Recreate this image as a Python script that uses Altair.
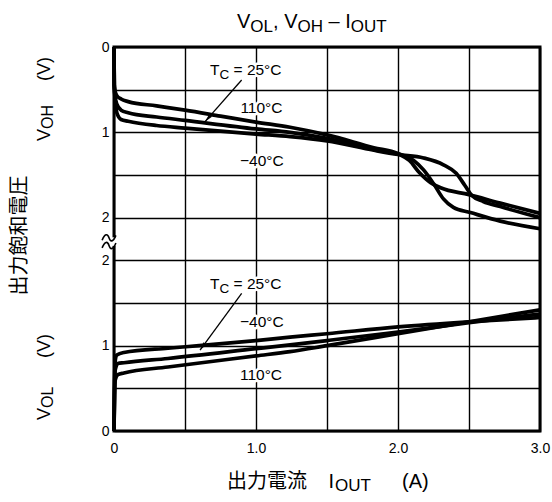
import math
import altair as alt
import pandas as pd

# ---------------- data ----------------
# V_OH - I_OUT  (upper panel, axis runs 0 at top to 2 at bottom)
oh_iout_110 = [0, 0.002, 0.008, 0.02, 0.05, 0.1, 0.3, 0.5, 0.75, 1.0, 1.24, 1.5, 1.83, 2.0, 2.08, 2.15, 2.23, 2.3, 2.5, 2.72, 3.0]
oh_v_110 = [0, 0.45, 0.52, 0.57, 0.61, 0.64, 0.69, 0.74, 0.81, 0.88, 0.94, 1.03, 1.18, 1.25, 1.33, 1.47, 1.59, 1.65, 1.73, 1.83, 1.95]
oh_iout_25 = [0, 0.002, 0.008, 0.02, 0.05, 0.1, 0.3, 0.5, 1.0, 1.24, 1.5, 1.83, 2.0, 2.11, 2.18, 2.25, 2.32, 2.39, 2.51, 2.72, 3.0]
oh_v_25 = [0, 0.45, 0.58, 0.67, 0.74, 0.77, 0.82, 0.86, 0.96, 1.0, 1.07, 1.20, 1.25, 1.33, 1.44, 1.60, 1.78, 1.88, 1.94, 2.04, 2.13]
oh_iout_m40 = [0, 0.002, 0.008, 0.02, 0.05, 0.1, 0.3, 0.5, 1.0, 1.24, 1.5, 1.83, 2.0, 2.18, 2.32, 2.41, 2.47, 2.52, 2.6, 2.72, 3.0]
oh_v_m40 = [0, 0.45, 0.62, 0.77, 0.85, 0.87, 0.92, 0.95, 1.02, 1.05, 1.10, 1.21, 1.26, 1.30, 1.38, 1.48, 1.62, 1.74, 1.81, 1.87, 2.0]

# V_OL - I_OUT  (lower panel, 0 at bottom to 2 at top)
ol_iout_25 = [0, 0.004, 0.009, 0.02, 0.07, 0.38, 0.6, 1.0, 1.24, 1.5, 2.0, 2.5, 3.0]
ol_v_25 = [0, 0.6, 0.83, 0.89, 0.92, 0.97, 1.0, 1.06, 1.10, 1.14, 1.22, 1.28, 1.33]
ol_iout_m40 = [0, 0.004, 0.009, 0.027, 0.07, 0.38, 1.0, 1.24, 1.5, 2.0, 2.5, 3.0]
ol_v_m40 = [0, 0.5, 0.72, 0.79, 0.80, 0.85, 0.965, 1.01, 1.06, 1.16, 1.27, 1.37]
ol_iout_110 = [0, 0.004, 0.009, 0.027, 0.07, 0.38, 1.0, 1.24, 1.5, 2.0, 2.5, 3.0]
ol_v_110 = [0, 0.42, 0.60, 0.66, 0.68, 0.75, 0.88, 0.93, 1.0, 1.14, 1.28, 1.42]

# arrows (I_OUT, V) from label to curve
arrow_oh_iout = [0.899, 0.641]
arrow_oh_v = [0.387, 0.875]
arrow_ol_iout = [0.899, 0.606]
arrow_ol_v = [1.614, 0.949]

x_tick_values = [0, 0.5, 1.0, 1.5, 2.0, 2.5, 3.0]
y_tick_values = [0, 0.5, 1.0, 1.5, 2.0, 2.5, 3.0, 3.5, 4.0, 4.5]

# texts
title_parts = ["V", "OL", ", V", "OH", " – I", "OUT"]
title_subs = [False, True, False, True, False, True]
xtitle_cjk = "出力電流"
xtitle_parts = ["I", "OUT"]
xtitle_unit = "(A)"
ytitle_cjk = "出力飽和電圧"
voh_title = ["V", "OH"]
vol_title = ["V", "OL"]
unit_v = "(V)"
tc_parts = ["T", "C", " = 25°C"]
tc_subs = [False, True, False]
lbl_110 = "110°C"
lbl_m40 = "−40°C"

# axis-break positions on the combined axis
break_pos = [2.264, 2.174]

# ---------------- layout ----------------
FONT = "Liberation Sans"
CJK = "Noto Sans CJK JP"
W, H = 426, 384
TOP_MAX = 4.5  # combined axis: lower panel 0..2, gap 2..2.5, upper panel 2.5..4.5


def to_pos(panel, v):
    return TOP_MAX - v if panel == "OH" else v


ADV = {"V": 0.667, "O": 0.778, "L": 0.556, "H": 0.722, "I": 0.278, "U": 0.722,
       "T": 0.611, "C": 0.722, ",": 0.278, " ": 0.278, "–": 0.556, "−": 0.584,
       "=": 0.584, "(": 0.333, ")": 0.333, "A": 0.667, "°": 0.4}


def lw(s, size):
    return sum(ADV.get(c, 0.556) for c in s) * size


rows = []
for panel, temp, xs_, vs_ in [
    ("OH", "110", oh_iout_110, oh_v_110), ("OH", "25", oh_iout_25, oh_v_25),
    ("OH", "-40", oh_iout_m40, oh_v_m40), ("OL", "25", ol_iout_25, ol_v_25),
    ("OL", "-40", ol_iout_m40, ol_v_m40), ("OL", "110", ol_iout_110, ol_v_110)]:
    for x, v in zip(xs_, vs_):
        rows.append({"panel": panel, "series": panel + temp, "I": x, "V": v})
df = pd.DataFrame(rows)

arows = []
for name, panel, xs_, vs_ in [("a1", "OH", arrow_oh_iout, arrow_oh_v), ("a2", "OL", arrow_ol_iout, arrow_ol_v)]:
    for x, v in zip(xs_, vs_):
        arows.append({"arrow": name, "panel": panel, "I": x, "V": v})
adf = pd.DataFrame(arows)

calc = "datum.panel == 'OH' ? 4.5 - datum.V : datum.V"

xaxis = alt.Axis(values=x_tick_values,
                 labelExpr="datum.value == 0 ? '0' : (datum.value % 1 == 0 ? format(datum.value, '.1f') : '')",
                 grid=True, gridColor="black", gridWidth=1.4, gridOpacity=1, domain=False, ticks=False,
                 labelFont=FONT, labelFontSize=14, labelColor="black", labelPadding=10,
                 labelFlush=False, labelOverlap=False, title=None)
yaxis = alt.Axis(values=y_tick_values,
                 labelExpr="(datum.value == 0 || datum.value == 4.5) ? '0' : ((datum.value == 1 || datum.value == 3.5) ? '1' : ((datum.value == 2 || datum.value == 2.5) ? '2' : ''))",
                 grid=True, gridColor="black", gridWidth=1.4, gridOpacity=1, domain=False, ticks=False,
                 labelFont=FONT, labelFontSize=14, labelColor="black", labelPadding=5,
                 labelFlush=False, labelOverlap=False, title=None)

xs = alt.Scale(domain=[0, 3], nice=False, zero=False)
ys = alt.Scale(domain=[0, TOP_MAX], nice=False, zero=False)

curves = alt.Chart(df).transform_calculate(pos=calc).mark_line(
    color="black", strokeWidth=3.7, interpolate="monotone"
).encode(
    x=alt.X("I:Q", scale=xs, axis=xaxis),
    y=alt.Y("pos:Q", scale=ys, axis=yaxis),
    detail="series:N",
)

arrow_lines = alt.Chart(adf).transform_calculate(pos=calc).mark_line(
    color="black", strokeWidth=1.3
).encode(x=alt.X("I:Q", scale=xs), y=alt.Y("pos:Q", scale=ys), detail="arrow:N")


def head_angle(xs_, vs_, panel):
    dxp = (xs_[1] - xs_[0]) * W / 3.0
    dv = vs_[1] - vs_[0]
    dyp = dv * H / TOP_MAX if panel == "OH" else -dv * H / TOP_MAX
    return math.degrees(math.atan2(dxp, -dyp)) % 360


heads = []
for name, panel, xs_, vs_ in [("a1", "OH", arrow_oh_iout, arrow_oh_v), ("a2", "OL", arrow_ol_iout, arrow_ol_v)]:
    heads.append(
        alt.Chart(adf[adf["arrow"] == name].iloc[[1]]).transform_calculate(pos=calc).mark_point(
            shape="M0,0L0.45,2L-0.45,2Z", filled=True, size=70, color="black", opacity=1,
            angle=head_angle(xs_, vs_, panel)
        ).encode(x=alt.X("I:Q", scale=xs), y=alt.Y("pos:Q", scale=ys))
    )


def data_run(parts, subs, xa, p, size, subsize, shift, halo):
    layers = []
    adv = 0.0
    for part, s in zip(parts, subs):
        fs = subsize if s else size
        lead = len(part) - len(part.lstrip(" "))
        trail = len(part) - len(part.rstrip(" "))
        adv += lead * 0.278 * fs
        core = part.strip(" ")
        mk = dict(align="left", baseline="alphabetic", font=FONT, fontSize=fs, dx=adv, dy=(shift if s else 0))
        if halo:
            mk.update(color="white", stroke="white", strokeWidth=5, strokeJoin="round")
        else:
            mk.update(color="black")
        layers.append(alt.Chart(alt.Data(values=[{"t": core}])).mark_text(**mk).encode(
            x=alt.datum(xa), y=alt.datum(p), text="t:N"))
        adv += lw(core, fs) + trail * 0.278 * fs
    return layers


LS, LSS = 15.5, 13.5
label_specs = [
    (tc_parts, tc_subs, 0.676, to_pos("OH", 0.328)),
    ([lbl_110], [False], 0.89, to_pos("OH", 0.777)),
    ([lbl_m40], [False], 0.887, to_pos("OH", 1.395)),
    (tc_parts, tc_subs, 0.676, to_pos("OL", 1.661)),
    ([lbl_m40], [False], 0.887, to_pos("OL", 1.222)),
    ([lbl_110], [False], 0.887, to_pos("OL", 0.598)),
]
halos, texts = [], []
for parts, subs, xa, p in label_specs:
    halos += data_run(parts, subs, xa, p, LS, LSS, 4, True)
    texts += data_run(parts, subs, xa, p, LS, LSS, 4, False)


def px_text(t, x, y, size, font=FONT, angle=0, align="left", baseline="alphabetic"):
    return alt.Chart(alt.Data(values=[{"t": t}])).mark_text(
        align=align, baseline=baseline, font=font, fontSize=size, angle=angle, color="black"
    ).encode(x=alt.value(x), y=alt.value(y), text="t:N")


outer = []
# title
x = 123.0
for part, s in zip(title_parts, title_subs):
    fs = 17 if s else 20
    lead = len(part) - len(part.lstrip(" "))
    trail = len(part) - len(part.rstrip(" "))
    x += lead * 0.278 * fs
    core = part.strip(" ")
    outer.append(px_text(core, x, -19 + (4 if s else 0), fs))
    x += lw(core, fs) + trail * 0.278 * fs

# x-axis title
outer.append(px_text(xtitle_cjk, 113, 441, 20, font=CJK))
outer.append(px_text(xtitle_parts[0], 214.5, 441, 20))
outer.append(px_text(xtitle_parts[1], 214.5 + lw("I", 20) + 1, 444, 17))
outer.append(px_text(xtitle_unit, 288, 441, 20))

# y-axis titles (rotated)
outer.append(px_text(ytitle_cjk, -94, 188.5, 20, font=CJK, angle=270, align="center", baseline="middle"))
for parts, y0, unit_y in [(voh_title, 94, 34), (vol_title, 373, 311)]:
    outer.append(px_text(parts[0], -64, y0, 18, angle=270))
    outer.append(px_text(parts[1], -61, y0 - lw("V", 18), 16, angle=270))
    outer.append(px_text(unit_v, -64, unit_y, 18, angle=270))

# axis break mark: white gap in the frame plus two wavy strokes
brk_df = pd.DataFrame({"pos": break_pos})
brk = [
    alt.Chart(alt.Data(values=[{"a": 1}])).mark_rule(color="white", strokeWidth=8).encode(
        x=alt.datum(0), y=alt.datum(min(break_pos) - 0.005), y2=alt.datum(max(break_pos) + 0.005)),
    alt.Chart(brk_df).mark_point(
        shape="M-1,0.35C-0.6,-0.65 -0.2,-0.65 0,0C0.2,0.65 0.6,0.65 1,-0.35",
        filled=False, size=190, color="black", strokeWidth=1.6, opacity=1, xOffset=-5
    ).encode(x=alt.datum(0), y=alt.Y("pos:Q", scale=ys)),
]

chart = alt.layer(
    curves, arrow_lines, *heads, *halos, *texts, *brk, *outer
).properties(
    width=W, height=H,
    padding={"left": 114, "top": 47, "right": 12, "bottom": 71},
    autosize=alt.AutoSizeParams(type="none"),
    background="white",
).configure_view(stroke="black", strokeWidth=3)

chart.save("out.html", embed_options={"renderer": "svg", "actions": False})
